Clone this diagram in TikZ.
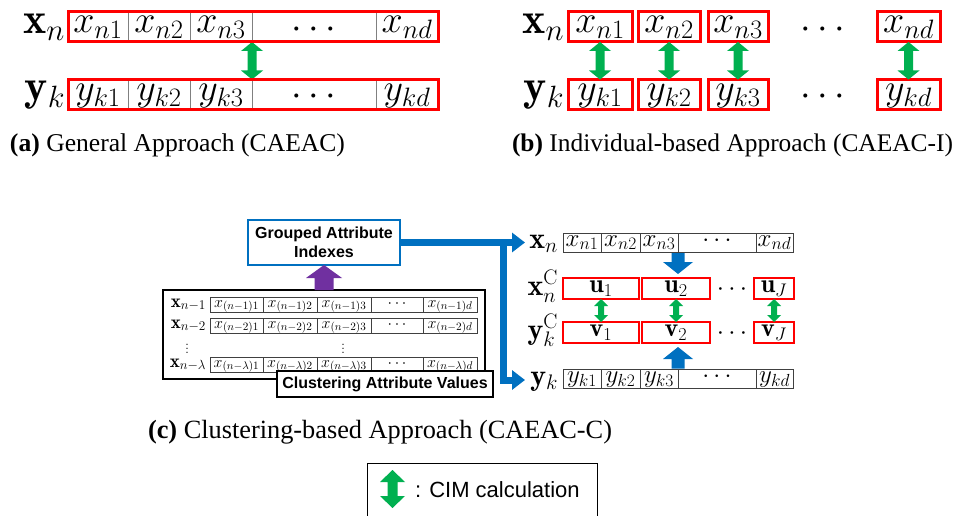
\RequirePackage{fix-cm}
\documentclass[tikz,border=0pt]{standalone}
\usepackage{fontspec}
\newfontfamily\sansf{Liberation Sans}
\newfontfamily\seriff{Liberation Serif}
\usetikzlibrary{calc,fit,arrows.meta}
\definecolor{cimgreen}{HTML}{00B050}
\definecolor{cblue}{HTML}{0070C0}
\definecolor{cpurple}{HTML}{7030A0}
\definecolor{cgray}{HTML}{808080}
\definecolor{cdark}{HTML}{404040}
\definecolor{cred}{HTML}{FF0000}
% vertical double block arrow: style, top, bottom, head half-width, shaft half-width, head length
\newcommand\cimArrow[6]{\fill[#1] let \p1=(#2), \p2=(#3) in
  (\x1,\y1) -- (\x1+#4,\y1-#6) -- (\x1+#5,\y1-#6) -- (\x1+#5,\y2+#6) -- (\x1+#4,\y2+#6)
  -- (\x1,\y2) -- (\x1-#4,\y2+#6) -- (\x1-#5,\y2+#6) -- (\x1-#5,\y1-#6) -- (\x1-#4,\y1-#6) -- cycle;}
% vertical single block arrow: style, tail, tip, head half-width, shaft half-width, signed head length
\newcommand\blockArrow[6]{\fill[#1] let \p1=(#2), \p2=(#3) in
  (\x1-#5,\y1) -- (\x1+#5,\y1) -- (\x1+#5,\y2+#6) -- (\x1+#4,\y2+#6) -- (\x1,\y2)
  -- (\x1-#4,\y2+#6) -- (\x1-#5,\y2+#6) -- cycle;}
\begin{document}
\begin{tikzpicture}[x=1pt,y=-1pt,
  every node/.style={inner sep=0pt, outer sep=0pt},
  fA/.style={font=\fontsize{38}{40}\selectfont},
  fAL/.style={font=\fontsize{44}{46}\selectfont},
  txtA/.style={fA, text height=18pt, text depth=6pt, minimum height=30pt, anchor=west},
  cellA/.style={txtA, draw=cgray, line width=1pt},
  dotsA/.style={fA, anchor=center},
  redA/.style={draw=cred, line width=3pt},
  boxB/.style={txtA, draw=cred, line width=3pt},
  cellL/.style={font=\fontsize{16}{18}\selectfont, draw=cdark, line width=0.8pt, minimum height=15pt,
     text height=9pt, text depth=4pt, anchor=west},
  labL/.style={font=\fontsize{19}{21}\selectfont, anchor=base east},
  cellC/.style={font=\fontsize{25}{27}\selectfont, draw=cdark, line width=0.8pt, minimum height=19pt,
     text height=11pt, text depth=4pt, anchor=west},
  boxC/.style={font=\fontsize{26}{28}\selectfont, draw=cred, line width=2pt, minimum height=21pt,
     text height=12pt, text depth=4pt, anchor=west},
  dotsC/.style={font=\fontsize{26}{28}\selectfont, anchor=center},
  labC/.style={font=\fontsize{30}{32}\selectfont, anchor=base east},
  sansbold/.style={font=\sansf\bfseries\fontsize{16}{19}\selectfont},
  bluecon/.style={draw=cblue, line width=7pt, line join=miter},
  bluetip/.style={-{Triangle[length=13pt,width=19pt]}},
]
\fill[white] (0,0) rectangle (964,516);
\useasboundingbox (0,0) rectangle (964,516);

% ---------------- (a) ----------------
\node[fAL, anchor=base east] (axl) at (65,34) {$\mathbf{x}_n$};
\node[fAL, anchor=base east] (ayl) at (65,101) {$\mathbf{y}_k$};
\node[cellA, minimum width=60pt]  (ax1) at (68,27)  {$x_{n1}$};
\node[cellA, minimum width=62pt]  (ax2) at (128,27) {$x_{n2}$};
\node[cellA, minimum width=62pt]  (ax3) at (190,27) {$x_{n3}$};
\node[cellA, minimum width=124pt] (ax4) at (252,27) {};
\node[cellA, minimum width=62pt]  (ax5) at (376,27) {$x_{nd}$};
\node[cellA, minimum width=60pt]  (ay1) at (68,94.5)  {$y_{k1}$};
\node[cellA, minimum width=62pt]  (ay2) at (128,94.5) {$y_{k2}$};
\node[cellA, minimum width=62pt]  (ay3) at (190,94.5) {$y_{k3}$};
\node[cellA, minimum width=124pt] (ay4) at (252,94.5) {};
\node[cellA, minimum width=62pt]  (ay5) at (376,94.5) {$y_{kd}$};
\node[dotsA] (axd) at (314,30) {$\cdots$};
\node[dotsA] (ayd) at (314,97.5) {$\cdots$};
\cimArrow{cimgreen}{ax3.south east}{ay3.north east}{11pt}{4.5pt}{9pt}
\node[redA, fit=(ax1)(ax5)] (axbox) {};
\node[redA, fit=(ay1)(ay5)] (aybox) {};
\node[anchor=base west] (capa) at (10,152) {\resizebox{335pt}{!}{\seriff\textbf{(a)} General Approach (CAEAC)}};

% ---------------- (b) ----------------
\node[fAL, anchor=base east] (bxl) at (564,34) {$\mathbf{x}_n$};
\node[fAL, anchor=base east] (byl) at (564,101) {$\mathbf{y}_k$};
\node[boxB, minimum width=64pt] (bx1) at (568,27) {$x_{n1}$};
\node[boxB, minimum width=62pt] (bx2) at (638,27) {$x_{n2}$};
\node[boxB, minimum width=60pt] (bx3) at (708,27) {$x_{n3}$};
\node[dotsA] (bxd) at (823,30) {$\cdots$};
\node[boxB, minimum width=63pt] (bx4) at (877,27) {$x_{nd}$};
\node[boxB, minimum width=64pt] (by1) at (568,94.5) {$y_{k1}$};
\node[boxB, minimum width=62pt] (by2) at (638,94.5) {$y_{k2}$};
\node[boxB, minimum width=60pt] (by3) at (708,94.5) {$y_{k3}$};
\node[dotsA] (byd) at (823,97.5) {$\cdots$};
\node[boxB, minimum width=63pt] (by4) at (877,94.5) {$y_{kd}$};
\foreach \i in {1,2,3,4}{\cimArrow{cimgreen}{bx\i.south}{by\i.north}{11pt}{4.5pt}{9pt}}
\node[anchor=base west] (capb) at (512,152) {\resizebox{441pt}{!}{\seriff\textbf{(b)} Individual-based Approach (CAEAC-I)}};

% ---------------- (c) left ----------------
\node[sansbold, draw=cblue, line width=2pt, minimum width=152pt, minimum height=45pt, align=center]
  (gai) at (324,242.5) {Grouped Attribute\\Indexes};
\node[draw, line width=2pt, minimum width=322pt, minimum height=89pt, anchor=north west] (bigbox) at (163,290) {};
\blockArrow{cpurple}{gai.south |- bigbox.north}{gai.south}{18pt}{9.5pt}{-13pt}

\node[labL] (l1l) at (206,307) {$\mathbf{x}_{n-1}$};
\node[labL] (l2l) at (206,328) {$\mathbf{x}_{n-2}$};
\node[labL] (l3l) at (206,367) {$\mathbf{x}_{n-\lambda}$};
\node[cellL, minimum width=53pt] (l1a) at (210,304.5) {$x_{(n-1)1}$};
\node[cellL, minimum width=54pt] (l1b) at (263,304.5) {$x_{(n-1)2}$};
\node[cellL, minimum width=54pt] (l1c) at (317,304.5) {$x_{(n-1)3}$};
\node[cellL, minimum width=52pt] (l1d) at (371,304.5) {$\cdots$};
\node[cellL, minimum width=54pt] (l1e) at (423,304.5) {$x_{(n-1)d}$};
\node[cellL, minimum width=53pt] (l2a) at (210,325.5) {$x_{(n-2)1}$};
\node[cellL, minimum width=54pt] (l2b) at (263,325.5) {$x_{(n-2)2}$};
\node[cellL, minimum width=54pt] (l2c) at (317,325.5) {$x_{(n-2)3}$};
\node[cellL, minimum width=52pt] (l2d) at (371,325.5) {$\cdots$};
\node[cellL, minimum width=54pt] (l2e) at (423,325.5) {$x_{(n-2)d}$};
\node[cellL, minimum width=53pt] (l3a) at (210,364.5) {$x_{(n-\lambda)1}$};
\node[cellL, minimum width=54pt] (l3b) at (263,364.5) {$x_{(n-\lambda)2}$};
\node[cellL, minimum width=54pt] (l3c) at (317,364.5) {$x_{(n-\lambda)3}$};
\node[cellL, minimum width=52pt] (l3d) at (371,364.5) {$\cdots$};
\node[cellL, minimum width=54pt] (l3e) at (423,364.5) {$x_{(n-\lambda)d}$};
\node[font=\fontsize{16}{18}\selectfont] (vd1) at (187,346) {$\vdots$};
\node[font=\fontsize{16}{18}\selectfont] (vd2) at (343,346) {$\vdots$};
\node[sansbold, draw, line width=2pt, fill=white, minimum width=216pt, minimum height=26pt]
  (cav) at (385,384) {Clustering Attribute Values};

% ---------------- (c) right ----------------
\node[labC] (xcl) at (558,248) {$\mathbf{x}_n$};
\node[labC] (xccl) at (558,295) {$\mathbf{x}_n^{\mathrm{C}}$};
\node[labC] (yccl) at (558,339) {$\mathbf{y}_k^{\mathrm{C}}$};
\node[labC] (ycl) at (558,385) {$\mathbf{y}_k$};
\node[cellC, minimum width=38pt] (xc1) at (563,242.5) {$x_{n1}$};
\node[cellC, minimum width=39pt] (xc2) at (601,242.5) {$x_{n2}$};
\node[cellC, minimum width=38pt] (xc3) at (640,242.5) {$x_{n3}$};
\node[cellC, minimum width=78pt] (xc4) at (678,242.5) {$\cdots$};
\node[cellC, minimum width=37pt] (xc5) at (756,242.5) {$x_{nd}$};
\node[cellC, minimum width=38pt] (yc1) at (563,379) {$y_{k1}$};
\node[cellC, minimum width=39pt] (yc2) at (601,379) {$y_{k2}$};
\node[cellC, minimum width=38pt] (yc3) at (640,379) {$y_{k3}$};
\node[cellC, minimum width=78pt] (yc4) at (678,379) {$\cdots$};
\node[cellC, minimum width=37pt] (yc5) at (756,379) {$y_{kd}$};
\node[boxC, minimum width=76pt] (ub1) at (563,288.5) {$\mathbf{u}_1$};
\node[boxC, minimum width=68pt] (ub2) at (642,288.5) {$\mathbf{u}_2$};
\node[dotsC] (ubd) at (732,290) {$\cdots$};
\node[boxC, minimum width=40pt] (ubJ) at (754,288.5) {$\mathbf{u}_J$};
\node[boxC, minimum width=76pt] (vb1) at (563,332.5) {$\mathbf{v}_1$};
\node[boxC, minimum width=68pt] (vb2) at (642,332.5) {$\mathbf{v}_2$};
\node[dotsC] (vbd) at (732,334) {$\cdots$};
\node[boxC, minimum width=40pt] (vbJ) at (754,332.5) {$\mathbf{v}_J$};
\foreach \a/\b in {ub1/vb1,ub2/vb2,ubJ/vbJ}{\cimArrow{cimgreen}{\a.south}{\b.north}{7pt}{3pt}{7pt}}
\blockArrow{cblue}{$(xc4.south west)+(0,1)$}{$(ub2.north -| xc4.west)+(0,-4)$}{15pt}{6.5pt}{12pt}
\blockArrow{cblue}{$(yc4.north west)+(0,-1)$}{$(vb2.south -| yc4.west)+(0,4)$}{15pt}{6.5pt}{-12pt}

% blue connector
\coordinate (jt) at (503,242.5);
\coordinate (jb) at (503,380);
\coordinate (tipx) at (525,242.5);
\coordinate (tipy) at (525,380);
\draw[bluecon, bluetip] (gai.east) -- (tipx);
\draw[bluecon, bluetip] (jt) -- (jb) -- (tipy);

\node[anchor=base west] (capc) at (148,438) {\resizebox{464pt}{!}{\seriff\textbf{(c)} Clustering-based Approach (CAEAC-C)}};

% ---------------- legend ----------------
\node[draw, line width=1pt, anchor=north west, minimum width=230pt, minimum height=70pt] (legend) at (367,463) {};
\coordinate (lgt) at (392.5,470);
\coordinate (lgb) at (392.5,508);
\cimArrow{cimgreen}{lgt}{lgb}{12.5pt}{5pt}{12pt}
\node[font=\sansf\fontsize{22}{24}\selectfont, anchor=base west] (legtext) at (415,497) {: CIM calculation};
\end{tikzpicture}
\end{document}
